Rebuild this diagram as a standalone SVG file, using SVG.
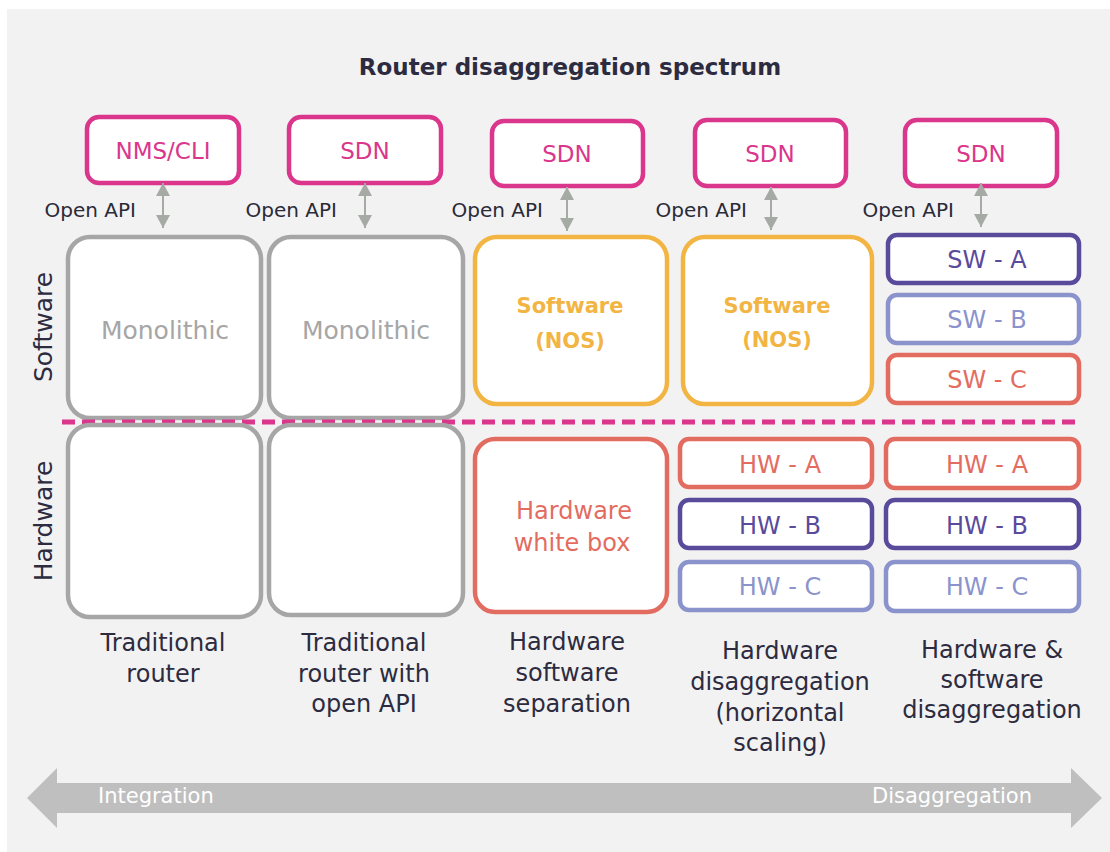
<svg xmlns="http://www.w3.org/2000/svg" width="1110" height="852" viewBox="0 0 1110 852">
<style>
text{font-family:"DejaVu Sans","Liberation Sans",sans-serif;}
.bg{fill:#f2f2f2;}
.ctl{fill:#fff;stroke:#da368c;stroke-width:4.5;}
.ctlt{fill:#da368c;font-size:23px;text-anchor:middle;}
.api{fill:#2b2a38;font-size:20px;text-anchor:end;}
.mono{fill:#fff;stroke:#a6a6a6;stroke-width:4.5;}
.monot{fill:#a6a6a6;font-size:25px;text-anchor:middle;}
.nos{fill:#fff;stroke:#f2b543;stroke-width:4.5;}
.nost{fill:#f2b543;font-size:21px;font-weight:bold;text-anchor:middle;}
.sal{fill:#fff;stroke:#e36c61;stroke-width:4.5;}
.salt{fill:#e36c61;font-size:24px;text-anchor:middle;}
.pur{fill:#fff;stroke:#5a4a9c;stroke-width:4.5;}
.purt{fill:#5a4a9c;font-size:24px;text-anchor:middle;}
.lav{fill:#fff;stroke:#8b93cc;stroke-width:4.5;}
.lavt{fill:#8b93cc;font-size:24px;text-anchor:middle;}
.lbl{fill:#2d2b40;font-size:24px;text-anchor:middle;}
.side{fill:#2d2b40;font-size:25px;text-anchor:middle;}
.conn{stroke:#a5aaa4;stroke-width:2;fill:none;marker-start:url(#ah);marker-end:url(#ah);}
.spec{fill:#fff;font-size:21px;}
</style>
<defs>
<marker id="ah" viewBox="0 0 13 14" refX="13" refY="7" markerWidth="13" markerHeight="14" markerUnits="userSpaceOnUse" orient="auto-start-reverse">
<path d="M0,0 L13,7 L0,14 z" fill="#a5aaa4"/>
</marker>
</defs>
<rect x="0" y="0" width="1110" height="852" fill="#ffffff"/>
<rect class="bg" x="7" y="9" width="1103" height="843"/>
<text x="570" y="75" fill="#2d2b40" font-size="23" font-weight="bold" text-anchor="middle">Router disaggregation spectrum</text>

<g id="side-labels">
<text class="side" transform="translate(52,327) rotate(-90)">Software</text>
<text class="side" transform="translate(52,521) rotate(-90)">Hardware</text>
</g>

<g id="col1-nms"><rect class="ctl" x="87" y="117" width="152" height="66" rx="12"/><text class="ctlt" x="163" y="159">NMS/CLI</text></g>
<g id="col2-sdn"><rect class="ctl" x="289" y="117" width="152" height="66" rx="12"/><text class="ctlt" x="365" y="159">SDN</text></g>
<g id="col3-sdn"><rect class="ctl" x="492" y="121" width="151" height="65" rx="12"/><text class="ctlt" x="567" y="162">SDN</text></g>
<g id="col4-sdn"><rect class="ctl" x="695" y="120" width="151" height="66" rx="12"/><text class="ctlt" x="770" y="162">SDN</text></g>
<g id="col5-sdn"><rect class="ctl" x="905" y="120" width="152" height="66" rx="12"/><text class="ctlt" x="981" y="162">SDN</text></g>

<g id="api-labels">
<text class="api" x="136" y="217">Open API</text>
<text class="api" x="337" y="217">Open API</text>
<text class="api" x="543" y="217">Open API</text>
<text class="api" x="747" y="217">Open API</text>
<text class="api" x="954" y="217">Open API</text>
</g>

<g id="connectors">
<line class="conn" x1="163" y1="183" x2="163" y2="228"/>
<line class="conn" x1="365" y1="183" x2="365" y2="228"/>
<line class="conn" x1="567" y1="187" x2="567" y2="231"/>
<line class="conn" x1="771" y1="187" x2="771" y2="230"/>
<line class="conn" x1="981" y1="183" x2="981" y2="227"/>
</g>

<g id="col1-sw"><rect class="mono" x="68" y="237" width="193" height="181" rx="22"/><text class="monot" x="165" y="339">Monolithic</text></g>
<g id="col2-sw"><rect class="mono" x="269" y="237" width="194" height="181" rx="22"/><text class="monot" x="366" y="339">Monolithic</text></g>
<g id="col3-sw"><rect class="nos" x="475" y="237" width="192" height="167" rx="22"/><text class="nost" x="570" y="313">Software</text><text class="nost" x="570" y="348">(NOS)</text></g>
<g id="col4-sw"><rect class="nos" x="683" y="237" width="189" height="167" rx="22"/><text class="nost" x="777" y="313">Software</text><text class="nost" x="777" y="347">(NOS)</text></g>
<g id="col5-swa"><rect class="pur" x="888" y="235" width="191" height="48" rx="9"/><text class="purt" x="987" y="268">SW - A</text></g>
<g id="col5-swb"><rect class="lav" x="888" y="295" width="191" height="48" rx="9"/><text class="lavt" x="987" y="328">SW - B</text></g>
<g id="col5-swc"><rect class="sal" x="888" y="355" width="191" height="48" rx="9"/><text class="salt" x="987" y="388">SW - C</text></g>

<line x1="62" y1="422" x2="1080" y2="422" stroke="#da368c" stroke-width="5" stroke-dasharray="13 7"/>

<g id="col1-hw"><rect class="mono" x="68" y="425" width="193" height="192" rx="22"/></g>
<g id="col2-hw"><rect class="mono" x="269" y="425" width="194" height="190" rx="22"/></g>
<g id="col3-hw"><rect class="sal" x="475" y="439" width="192" height="173" rx="20"/><text class="salt" x="574" y="519" font-size="25">Hardware</text><text class="salt" x="572" y="551" font-size="25">white box</text></g>
<g id="col4-hwa"><rect class="sal" x="680" y="439" width="192" height="48" rx="9"/><text class="salt" x="780" y="473">HW - A</text></g>
<g id="col4-hwb"><rect class="pur" x="680" y="500" width="192" height="48" rx="9"/><text class="purt" x="780" y="534">HW - B</text></g>
<g id="col4-hwc"><rect class="lav" x="680" y="562" width="192" height="48" rx="9"/><text class="lavt" x="780" y="595">HW - C</text></g>
<g id="col5-hwa"><rect class="sal" x="886" y="439" width="193" height="49" rx="9"/><text class="salt" x="987" y="473">HW - A</text></g>
<g id="col5-hwb"><rect class="pur" x="886" y="500" width="193" height="48" rx="9"/><text class="purt" x="987" y="534">HW - B</text></g>
<g id="col5-hwc"><rect class="lav" x="886" y="562" width="193" height="49" rx="9"/><text class="lavt" x="987" y="595">HW - C</text></g>

<g id="col-labels">
<text class="lbl" x="163" y="651">Traditional</text>
<text class="lbl" x="163" y="682">router</text>
<text class="lbl" x="364" y="651">Traditional</text>
<text class="lbl" x="364" y="682">router with</text>
<text class="lbl" x="364" y="712">open API</text>
<text class="lbl" x="567" y="650">Hardware</text>
<text class="lbl" x="567" y="681">software</text>
<text class="lbl" x="567" y="712">separation</text>
<text class="lbl" x="780" y="659">Hardware</text>
<text class="lbl" x="780" y="690">disaggregation</text>
<text class="lbl" x="780" y="721">(horizontal</text>
<text class="lbl" x="780" y="751">scaling)</text>
<text class="lbl" x="992" y="658">Hardware &amp;</text>
<text class="lbl" x="992" y="688">software</text>
<text class="lbl" x="992" y="718">disaggregation</text>
</g>

<g id="spectrum-arrow">
<polygon points="27,798 57,768 57,783 1071,783 1071,768 1102,798 1071,828 1071,813 57,813 57,828" fill="#bfbfbf"/>
<text class="spec" x="98" y="803">Integration</text>
<text class="spec" x="1032" y="803" text-anchor="end">Disaggregation</text>
</g>
</svg>
